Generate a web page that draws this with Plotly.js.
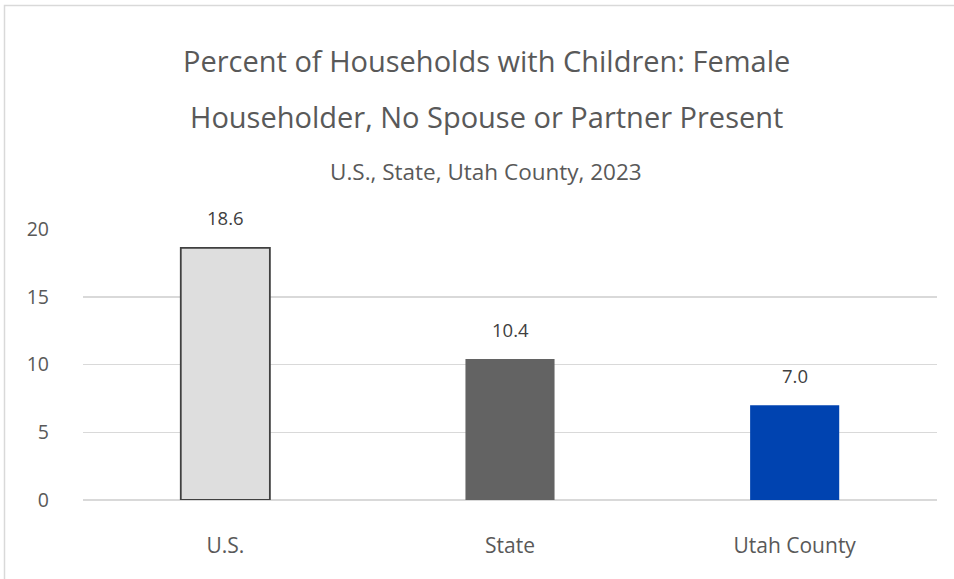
<!DOCTYPE html>
<html>
<head>
<meta charset="utf-8">
<script src="https://cdn.plot.ly/plotly-3.0.1.min.js"></script>
<style>html,body{margin:0;padding:0;background:#fff;}#chart{width:954px;height:579px;}</style>
</head>
<body>
<div id="chart"></div>
<script>
const categories = ["U.S.", "State", "Utah County"];
const values = [18.6, 10.4, 7.0];
const barColors = ["#DEDEDE", "#636363", "#0043B0"];
const yTicks = [0, 5, 10, 15, 20];
const titleLine1 = "Percent of Households with Children: Female";
const titleLine2 = "Householder, No Spouse or Partner Present";
const subtitle = "U.S., State, Utah County, 2023";

const FONT = "'Open Sans', 'Segoe UI', sans-serif";
const TXT = "#595959";

const trace = {
  type: "bar",
  x: categories,
  y: values,
  width: 0.313,
  marker: {
    color: barColors,
    line: { color: ["#404040", "rgba(0,0,0,0)", "rgba(0,0,0,0)"], width: [1.8, 0, 0] }
  },
  hoverinfo: "skip"
};

const labelAnns = categories.map((c, i) => ({
  x: c, y: values[i], xref: "x", yref: "y",
  text: values[i].toFixed(1), showarrow: false,
  yanchor: "middle", yshift: 30,
  font: { family: FONT, size: 18.5, color: "#404040" }
}));

const cx = 0.472;
const titleAnns = [
  { text: titleLine1, y: 1.6236, size: 29 },
  { text: titleLine2, y: 1.4133, size: 29 },
  { text: subtitle, y: 1.214, size: 22.5 }
].map(t => ({
  x: cx, y: t.y, xref: "paper", yref: "paper", text: t.text, showarrow: false,
  xanchor: "center", yanchor: "middle",
  font: { family: FONT, size: t.size, color: TXT }
}));

const layout = {
  width: 954, height: 579,
  margin: { l: 83, r: 17, t: 229, b: 79, pad: 0 },
  paper_bgcolor: "#ffffff", plot_bgcolor: "#ffffff",
  showlegend: false,
  font: { family: FONT, color: TXT },
  xaxis: {
    type: "category", range: [-0.5, 2.5], showgrid: false, zeroline: false,
    showline: false, ticks: "", ticklabelstandoff: 31,
    tickfont: { family: FONT, size: 21, color: TXT }, fixedrange: true
  },
  yaxis: {
    range: [0, 20], tickvals: yTicks, showgrid: true, gridcolor: "#D9D9D9", gridwidth: 1.5,
    zeroline: true, zerolinecolor: "#D9D9D9", zerolinewidth: 1.5,
    showline: false, ticks: "", ticklabelstandoff: 33,
    tickfont: { family: FONT, size: 19.5, color: TXT }, fixedrange: true
  },
  annotations: titleAnns.concat(labelAnns),
  shapes: [{
    type: "rect", xref: "paper", yref: "paper",
    x0: (4.5 - 83) / 854, x1: (1000 - 83) / 854,
    y0: (500 - 700) / 271, y1: (500 - 5.5) / 271,
    line: { color: "#D9D9D9", width: 1.5 }, fillcolor: "rgba(0,0,0,0)", layer: "below"
  }]
};

Plotly.newPlot("chart", [trace], layout, { displayModeBar: false, staticPlot: true });
</script>
</body>
</html>
